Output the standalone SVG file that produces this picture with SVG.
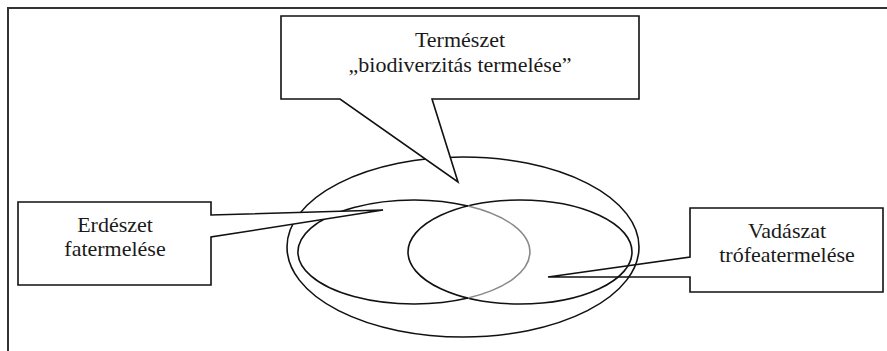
<svg xmlns="http://www.w3.org/2000/svg" width="887" height="351" viewBox="0 0 887 351">
<style>
.ln{fill:none;stroke:#111;stroke-width:1.6}
.co{fill:#fff;stroke:#111;stroke-width:1.6;stroke-linejoin:miter}
.t{font-family:'Liberation Serif','DejaVu Serif',serif;font-size:22px;fill:#1a1a1a;text-anchor:middle}
</style>
<rect width="887" height="351" fill="#fff"/>
<g id="frame">
<path d="M8,351 V8 H887" fill="none" stroke="#333" stroke-width="2"/>
</g>
<g id="vadaszat">
<path class="co" d="M690,208 H883 V292 H690 V277 H548 L690,257 Z"/>
<text class="t" font-family="Liberation Serif, serif" x="787" y="238">Vadászat</text>
<text class="t" font-family="Liberation Serif, serif" x="787" y="262">trófeatermelése</text>
</g>
<g id="connectors">
<ellipse id="termeszet-set" class="ln" cx="463" cy="247" rx="176" ry="90"/>
<ellipse id="vadaszat-set" class="ln" cx="520" cy="252" rx="112" ry="52"/>
<g id="erdeszet-set">
<path class="ln" d="M468,206 A116,52 0 1,0 468,298"/>
<path d="M468,298 A116,52 0 0,0 468,206" fill="none" stroke="#8a8a8a" stroke-width="1.6"/>
</g>
</g>
<g id="termeszet">
<path class="co" d="M281,16 H639 V99 H432 L458,182 L340,99 H281 Z"/>
<text class="t" font-family="Liberation Serif, serif" x="460" y="47">Természet</text>
<text class="t" font-family="Liberation Serif, serif" x="460" y="72">„biodiverzitás termelése”</text>
</g>
<g id="erdeszet">
<path class="co" d="M18,202 H211 V215 L383,210 L211,237 V285 H18 Z"/>
<text class="t" font-family="Liberation Serif, serif" x="115" y="232">Erdészet</text>
<text class="t" font-family="Liberation Serif, serif" x="115" y="256">fatermelése</text>
</g>
</svg>
